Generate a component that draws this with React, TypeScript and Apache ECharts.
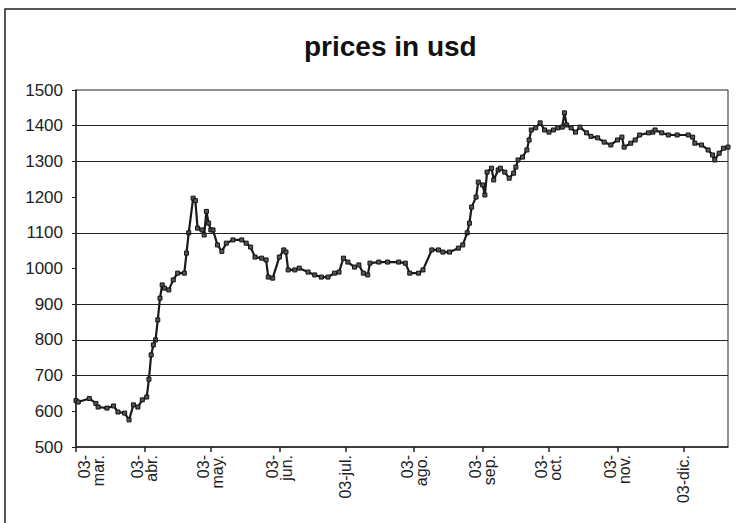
import React, { useEffect, useRef } from "react";
import * as echarts from "echarts";

// Days since 03-mar (calendar days) and price in USD
const DAYS = [
  0, 1, 6, 9, 10, 14, 17, 19, 22, 24, 26, 28, 30, 32, 33, 34, 35, 36, 37, 38, 39, 40, 42, 44, 46, 49,
  50, 51, 53, 54, 55, 57, 58, 59, 60, 61, 62, 64, 66, 68, 71, 75, 77, 79, 81, 84, 86, 87, 89, 92, 94,
  95, 96, 99, 101, 105, 108, 111, 114, 117, 119, 121, 123, 126, 128, 130, 132, 133, 137, 141, 146,
  149, 151, 155, 157, 161, 164, 166, 169, 173, 175, 177, 178, 179, 181, 182, 184, 185, 186, 188, 189,
  191, 192, 194, 196, 198, 199, 200, 202, 204, 205, 206, 208, 210, 212, 214, 216, 218, 220, 221, 222,
  224, 226, 228, 231, 233, 236, 239, 242, 245, 247, 248, 251, 253, 255, 259, 261, 262, 265, 268, 272,
  277, 279, 280, 283, 286, 288, 289, 291, 293, 295,
];
const PRICES = [
  630, 626, 636, 622, 612, 609, 615, 598, 595, 576, 618, 612, 632, 640, 690, 758, 786, 800, 856, 917,
  954, 945, 940, 968, 987, 987, 1043, 1100, 1197, 1190, 1113, 1108, 1094, 1160, 1127, 1108, 1108,
  1066, 1048, 1071, 1080, 1080, 1071, 1060, 1032, 1029, 1024, 976, 973, 1032, 1052, 1046, 996, 996,
  1001, 990, 982, 976, 976, 987, 990, 1029, 1018, 1004, 1010, 987, 982, 1015, 1018, 1018, 1018, 1015,
  987, 987, 996, 1052, 1052, 1046, 1046, 1057, 1066, 1100, 1127, 1172, 1200, 1242, 1234, 1206, 1270,
  1281, 1248, 1276, 1281, 1270, 1253, 1267, 1284, 1304, 1312, 1332, 1360, 1388, 1394, 1408, 1388,
  1382, 1388, 1394, 1396, 1436, 1402, 1394, 1382, 1396, 1380, 1370, 1366, 1354, 1346, 1360, 1368,
  1340, 1351, 1360, 1374, 1380, 1382, 1388, 1380, 1374, 1374, 1374, 1368, 1351, 1346, 1332, 1318,
  1304, 1323, 1337, 1340,
];

// Month ticks (days since 03-mar) and their labels
const TICK_DAYS = [0, 31, 61, 92, 122, 153, 184, 214, 245, 275];
const LABEL_DAYS = [7, 31, 61, 92, 122, 153, 184, 214, 245, 275];
const MONTH_LABELS = [
  "03-\nmar.",
  "03-\nabr.",
  "03-\nmay.",
  "03-\njun.",
  "03-jul.",
  "03-\nago.",
  "03-\nsep.",
  "03-\noct.",
  "03-\nnov.",
  "03-dic.",
];
const Y_MIN = 500;
const Y_MAX = 1500;
const Y_STEP = 100;
const X_MAX = 295;
// horizontal gridlines visible in the picture
const GRID_VALUES = [700, 800, 900, 1100, 1300, 1400];

export default function App() {
  const ref = useRef<HTMLDivElement>(null);
  useEffect(() => {
    if (!ref.current) return;
    const chart = echarts.init(ref.current, null, { renderer: "svg" });
    const font = "'Liberation Sans', Arial, sans-serif";
    chart.setOption({
      animation: false,
      backgroundColor: "#fff",
      title: {
        text: "prices in usd",
        left: 299,
        top: 27,
        textStyle: { fontFamily: font, fontWeight: "bold", fontSize: 28, color: "#111" },
      },
      graphic: [
        {
          type: "rect",
          shape: { x: 5, y: 9, width: 740, height: 520 },
          style: { fill: "none", stroke: "#222", lineWidth: 1.5 },
          silent: true,
        },
      ],
      grid: {
        left: 76,
        right: 8,
        top: 90,
        bottom: 76,
        show: true,
        borderColor: "#222",
        borderWidth: 1,
        backgroundColor: "transparent",
      },
      xAxis: {
        type: "value",
        min: 0,
        max: X_MAX,
        splitLine: { show: false },
        axisLine: { show: true, onZero: false, lineStyle: { color: "#222", width: 1.5 } },
        axisTick: {
          show: true,
          customValues: TICK_DAYS,
          length: 5,
          lineStyle: { color: "#222", width: 1.5 },
        },
        axisLabel: {
          show: true,
          customValues: LABEL_DAYS,
          rotate: 90,
          margin: 8,
          fontFamily: font,
          fontSize: 16,
          lineHeight: 14,
          color: "#222",
          formatter: (v: number) => {
            const i = LABEL_DAYS.indexOf(Math.round(v));
            return i >= 0 ? MONTH_LABELS[i] : "";
          },
        },
      },
      yAxis: {
        type: "value",
        min: Y_MIN,
        max: Y_MAX,
        interval: Y_STEP,
        splitLine: { show: false },
        axisLine: { show: true, lineStyle: { color: "#222", width: 1.5 } },
        axisTick: { show: true, length: 4, lineStyle: { color: "#222" } },
        axisLabel: {
          fontFamily: font,
          fontSize: 17,
          color: "#222",
          margin: 13,
          formatter: (v: number) => String(v),
        },
      },
      series: [
        {
          type: "line",
          data: DAYS.map((d, i) => [d, PRICES[i]]),
          lineStyle: { color: "#1a1a1a", width: 2.2 },
          symbol: "rect",
          symbolSize: 4,
          showSymbol: true,
          itemStyle: { color: "#555", borderColor: "#111", borderWidth: 1 },
          markLine: {
            silent: true,
            symbol: "none",
            label: { show: false },
            lineStyle: { color: "#222", width: 1.2, type: "solid" },
            data: GRID_VALUES.map((v) => ({ yAxis: v })),
          },
          z: 3,
        },
      ],
    });
    return () => chart.dispose();
  }, []);
  return (
    <div
      ref={ref}
      style={{ position: "fixed", left: 0, top: 0, width: 736, height: 523, background: "#fff" }}
    />
  );
}
